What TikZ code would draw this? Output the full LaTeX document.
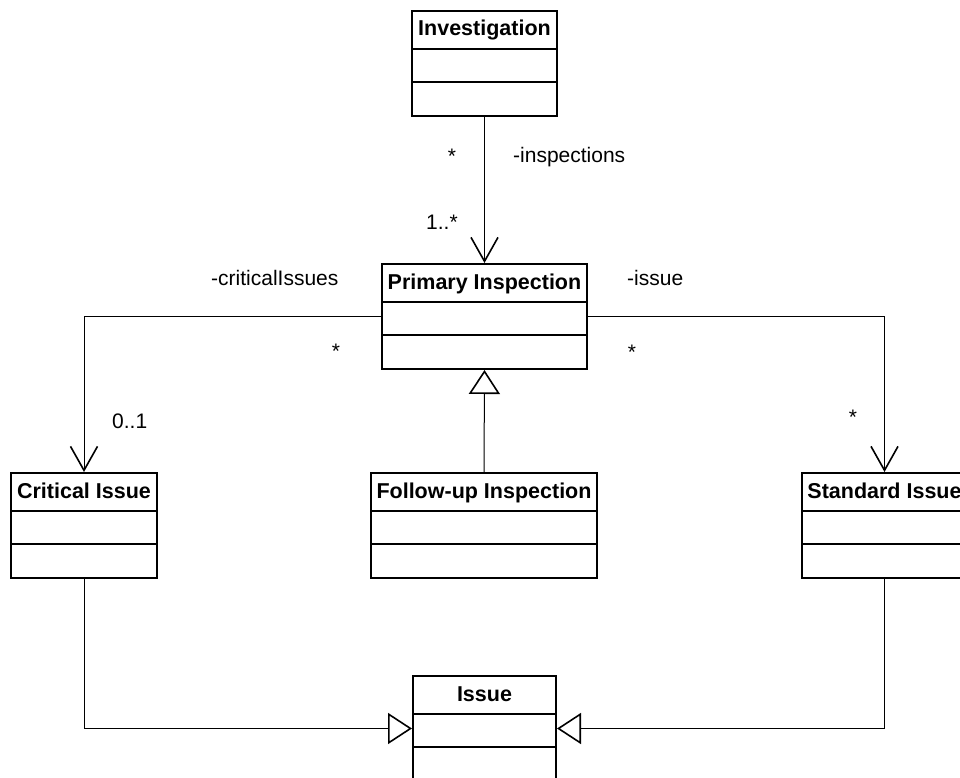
\documentclass[tikz,border=0pt]{standalone}
\usepackage{fontspec}
\setmainfont{Liberation Sans}
\usetikzlibrary{arrows.meta}
\begin{document}
\begin{tikzpicture}[x=1pt,y=-1pt,
  classbox/.style={draw, line width=2pt, minimum height=105pt, inner sep=0pt, anchor=north},
  divider/.style={line width=2pt},
  title/.style={font=\fontsize{21.5}{25}\selectfont\bfseries, inner sep=0pt, anchor=base},
  lbl/.style={font=\fontsize{21}{25}\selectfont, inner sep=0pt, anchor=base west},
  assoc/.style={line width=1pt, -{Straight Barb[length=24pt,width=27pt,line width=1.6pt]}},
  gen/.style={line width=1pt, -{Triangle[open,length=24pt,width=31pt,line width=1.6pt,fill=white]}},
]
\useasboundingbox (0,0) rectangle (960,778);
\clip (0,0) rectangle (960,778);

% class boxes (three compartments each)
\node[classbox, minimum width=145pt] (inv) at (484.5,10) {};
\node[classbox, minimum width=205pt] (pri) at (484.5,263) {};
\node[classbox, minimum width=146pt] (crit) at (84,472) {};
\node[classbox, minimum width=226pt] (fol) at (484,472) {};
\node[classbox, minimum width=165pt] (std) at (884.5,472) {};
\node[classbox, minimum width=143pt] (iss) at (484.5,675) {};

% compartment dividers
\foreach \c in {inv,pri,crit,fol,std,iss}{
  \draw[divider] ([yshift=-39pt]\c.north west) -- ([yshift=-39pt]\c.north east);
  \draw[divider] ([yshift=-72pt]\c.north west) -- ([yshift=-72pt]\c.north east);
}

% class names
\node[title] (invT) at ([yshift=-26pt]inv.north) {Investigation};
\node[title] (priT) at ([yshift=-26pt]pri.north) {Primary Inspection};
\node[title] (critT) at ([yshift=-26pt]crit.north) {Critical Issue};
\node[title] (folT) at ([yshift=-26pt]fol.north) {Follow-up Inspection};
\node[title] (stdT) at ([yshift=-26pt]std.north) {Standard Issue};
\node[title] (issT) at ([yshift=-26pt]iss.north) {Issue};

% associations
\draw[assoc] (inv.south) -- (pri.north);
\draw[assoc] (pri.west) -| (crit.north);
\draw[assoc] (pri.east) -| (std.north);

% generalizations
\draw[gen] (fol.north) -- (pri.south);
\draw[gen] (crit.south) |- (iss.west);
\draw[gen] (std.south) |- (iss.east);

% role names and multiplicities
\node[lbl, anchor=base] (m1) at (452,164) {*};
\node[lbl] (r1) at (513,163) {-inspections};
\node[lbl] (m2) at (426,229) {1..*};
\node[lbl] (r2) at (211,285) {-criticalIssues};
\node[lbl, anchor=base] (m3) at (336,358) {*};
\node[lbl] (r3) at (627,285) {-issue};
\node[lbl, anchor=base] (m4) at (632,359) {*};
\node[lbl] (m5) at (112,428) {0..1};
\node[lbl, anchor=base] (m6) at (853,424) {*};
\end{tikzpicture}
\end{document}
